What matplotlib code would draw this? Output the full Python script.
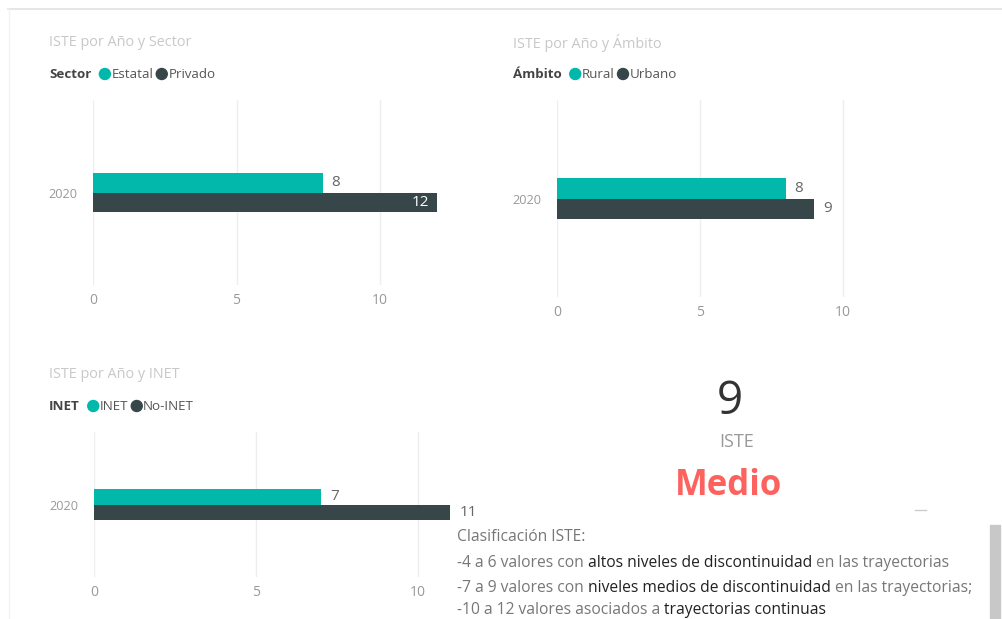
import matplotlib
matplotlib.use("Agg")
import matplotlib.pyplot as plt
from matplotlib.patches import Rectangle, Circle

W, H = 1002, 619

years = ["2020"]
sector_labels = ["Estatal", "Privado"]
sector_values = [8, 12]
ambito_labels = ["Rural", "Urbano"]
ambito_values = [8, 9]
inet_labels = ["INET", "No-INET"]
inet_values = [7, 11]
iste_value = 9
iste_class = "Medio"

TEAL = "#01B8AA"
DARK = "#374649"
FONT = "Open Sans"

plt.rcParams["font.family"] = [FONT, "DejaVu Sans"]

fig = plt.figure(figsize=(W / 100, H / 100), dpi=100)
fig.patch.set_facecolor("white")
renderer = fig.canvas.get_renderer()


def fx(x):
    return x / W


def fy(y):
    return 1 - y / H


def text_w(s, size, weight="normal"):
    t = fig.text(0, 0, s, fontsize=size, fontweight=weight)
    w = t.get_window_extent(renderer).width
    t.remove()
    return w


def put_seq(x, y, parts, size):
    # parts: (text, color, weight); a space goes between consecutive parts
    space = text_w("a a", size) - text_w("aa", size)
    for txt, color, weight in parts:
        fig.text(fx(x), fy(y), txt, fontsize=size, color=color,
                 fontweight=weight, va="center", ha="left")
        x += text_w(txt, size, weight) + space


def legend(x, y, title, labels):
    size = 9.6
    fig.text(fx(x), fy(y), title, fontsize=size, color="#444444",
             fontweight="bold", va="center")
    x += text_w(title, size, "bold") + 8
    for lab, col in zip(labels, [TEAL, DARK]):
        fig.patches.append(Circle((x + 5.5, H - y), 5.5, color=col,
                                  transform=None, figure=fig))
        x += 12
        fig.text(fx(x), fy(y), lab, fontsize=size, color="#555555", va="center")
        x += text_w(lab, size) + 3


def bar_panel(left, top, bottom, unit, xmax, values, inside, bar_h):
    ax = fig.add_axes([fx(left), fy(bottom), fx(xmax * unit), (bottom - top) / H])
    ax.barh([bar_h / 2], [values[0]], height=bar_h, color=TEAL, zorder=3)
    ax.barh([-bar_h / 2], [values[1]], height=bar_h, color=DARK, zorder=3)
    ax.set_xlim(0, xmax)
    ax.set_ylim(-1, 1)
    ax.set_xticks([0, 5, 10])
    ax.set_yticks([0])
    ax.set_yticklabels(years)
    ax.grid(axis="x", color="#eeeeee", linewidth=1, zorder=0)
    for s in ax.spines.values():
        s.set_visible(False)
    ax.tick_params(length=0, labelsize=10, labelcolor="#999999")
    ax.tick_params(axis="x", pad=6)
    ax.tick_params(axis="y", pad=11, labelsize=9.2)
    off = 0.3
    ax.text(values[0] + off, bar_h / 2, str(values[0]), va="center",
            ha="left", fontsize=11, color="#666666", zorder=4)
    if inside:
        ax.text(values[1] - off, -bar_h / 2, str(values[1]), va="center",
                ha="right", fontsize=11, color="white", zorder=4)
    else:
        ax.text(values[1] + off, -bar_h / 2, str(values[1]), va="center",
                ha="left", fontsize=11, color="#666666", zorder=4)
    return ax


# titles
title_kw = dict(fontsize=10.4, color="#c8c8c8", va="center")
fig.text(fx(49), fy(43), "ISTE por Año y Sector", **title_kw)
fig.text(fx(513), fy(43), "ISTE por Año y Ámbito", **title_kw)
fig.text(fx(49), fy(374), "ISTE por Año y INET", **title_kw)

legend(49, 74, "Sector", sector_labels)
legend(513, 74, "Ámbito", ambito_labels)
legend(49, 406, "INET", inet_labels)

bar_panel(93, 100, 285, 28.7, 12.6, sector_values, True, 0.21)
bar_panel(557, 100, 297, 28.6, 12.6, ambito_values, False, 0.21)
bar_panel(94, 432, 577, 32.4, 11.6, inet_values, False, 0.22)

# card
fig.text(fx(730), fy(402), str(iste_value), fontsize=33, color="#333333",
         ha="center", va="center")
fig.text(fx(737), fy(442), "ISTE", fontsize=13, color="#999999",
         ha="center", va="center")
fig.text(fx(728), fy(486), iste_class, fontsize=25, color="#FD625E",
         fontweight="bold", ha="center", va="center")

GRAY = "#777777"
BLACK = "#222222"
tsize = 11.25
put_seq(457, 537, [("Clasificación ISTE:", GRAY, "normal")], tsize)
put_seq(457, 563, [("-4 a 6 valores con", GRAY, "normal"),
                   ("altos niveles de discontinuidad", BLACK, "normal"),
                   ("en las trayectorias", GRAY, "normal")], tsize)
put_seq(457, 588, [("-7 a 9 valores con", GRAY, "normal"),
                   ("niveles medios de discontinuidad", BLACK, "normal"),
                   ("en las trayectorias;", GRAY, "normal")], tsize)
put_seq(457, 610, [("-10 a 12 valores asociados a", GRAY, "normal"),
                   ("trayectorias continuas", BLACK, "normal")], tsize)

# frame bits
fig.add_artist(plt.Line2D([fx(8), 1], [fy(8.5), fy(8.5)], color="#e2e2e2",
                          linewidth=1.2))
fig.add_artist(plt.Line2D([fx(9), fx(9)], [fy(8.5), 0], color="#f3f3f3",
                          linewidth=1))
fig.add_artist(plt.Line2D([fx(915), fx(926)], [fy(510), fy(510)],
                          color="#cccccc", linewidth=1))
fig.patches.append(Rectangle((fx(990), 0), fx(10), fy(525),
                             transform=fig.transFigure, color="#c8c8c8",
                             figure=fig))

fig.savefig("out.png", dpi=100)
